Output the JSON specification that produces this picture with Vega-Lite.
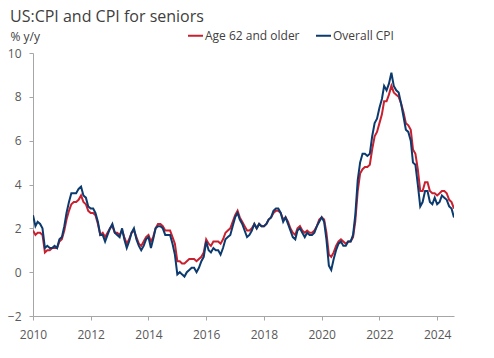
{
  "$schema": "https://vega.github.io/schema/vega-lite/v6.json",
  "width": 421,
  "height": 263,
  "autosize": "none",
  "padding": {"left": 33, "top": 53, "right": 40, "bottom": 42},
  "background": "white",
  "title": {
    "text": "US:CPI and CPI for seniors",
    "anchor": "start",
    "frame": "group",
    "dx": -23,
    "offset": 2,
    "fontSize": 16,
    "fontWeight": "normal",
    "font": "Open Sans",
    "color": "#404040"
  },
  "data": {
    "values": [
      {"date":"2010-01-01","Overall CPI":2.6,"Age 62 and older":1.9},
      {"date":"2010-02-01","Overall CPI":2.1,"Age 62 and older":1.7},
      {"date":"2010-03-01","Overall CPI":2.3,"Age 62 and older":1.8},
      {"date":"2010-04-01","Overall CPI":2.2,"Age 62 and older":1.8},
      {"date":"2010-05-01","Overall CPI":2.0,"Age 62 and older":1.7},
      {"date":"2010-06-01","Overall CPI":1.1,"Age 62 and older":0.9},
      {"date":"2010-07-01","Overall CPI":1.2,"Age 62 and older":1.0},
      {"date":"2010-08-01","Overall CPI":1.1,"Age 62 and older":1.0},
      {"date":"2010-09-01","Overall CPI":1.1,"Age 62 and older":1.1},
      {"date":"2010-10-01","Overall CPI":1.2,"Age 62 and older":1.1},
      {"date":"2010-11-01","Overall CPI":1.1,"Age 62 and older":1.1},
      {"date":"2010-12-01","Overall CPI":1.5,"Age 62 and older":1.4},
      {"date":"2011-01-01","Overall CPI":1.6,"Age 62 and older":1.5},
      {"date":"2011-02-01","Overall CPI":2.1,"Age 62 and older":1.9},
      {"date":"2011-03-01","Overall CPI":2.7,"Age 62 and older":2.4},
      {"date":"2011-04-01","Overall CPI":3.2,"Age 62 and older":2.8},
      {"date":"2011-05-01","Overall CPI":3.6,"Age 62 and older":3.1},
      {"date":"2011-06-01","Overall CPI":3.6,"Age 62 and older":3.2},
      {"date":"2011-07-01","Overall CPI":3.6,"Age 62 and older":3.2},
      {"date":"2011-08-01","Overall CPI":3.8,"Age 62 and older":3.3},
      {"date":"2011-09-01","Overall CPI":3.9,"Age 62 and older":3.5},
      {"date":"2011-10-01","Overall CPI":3.5,"Age 62 and older":3.2},
      {"date":"2011-11-01","Overall CPI":3.4,"Age 62 and older":3.1},
      {"date":"2011-12-01","Overall CPI":3.0,"Age 62 and older":2.8},
      {"date":"2012-01-01","Overall CPI":2.9,"Age 62 and older":2.7},
      {"date":"2012-02-01","Overall CPI":2.9,"Age 62 and older":2.7},
      {"date":"2012-03-01","Overall CPI":2.7,"Age 62 and older":2.6},
      {"date":"2012-04-01","Overall CPI":2.3,"Age 62 and older":2.2},
      {"date":"2012-05-01","Overall CPI":1.7,"Age 62 and older":1.7},
      {"date":"2012-06-01","Overall CPI":1.7,"Age 62 and older":1.8},
      {"date":"2012-07-01","Overall CPI":1.4,"Age 62 and older":1.6},
      {"date":"2012-08-01","Overall CPI":1.7,"Age 62 and older":1.8},
      {"date":"2012-09-01","Overall CPI":2.0,"Age 62 and older":2.0},
      {"date":"2012-10-01","Overall CPI":2.2,"Age 62 and older":2.1},
      {"date":"2012-11-01","Overall CPI":1.8,"Age 62 and older":1.8},
      {"date":"2012-12-01","Overall CPI":1.7,"Age 62 and older":1.8},
      {"date":"2013-01-01","Overall CPI":1.6,"Age 62 and older":1.7},
      {"date":"2013-02-01","Overall CPI":2.0,"Age 62 and older":1.9},
      {"date":"2013-03-01","Overall CPI":1.5,"Age 62 and older":1.6},
      {"date":"2013-04-01","Overall CPI":1.1,"Age 62 and older":1.3},
      {"date":"2013-05-01","Overall CPI":1.4,"Age 62 and older":1.5},
      {"date":"2013-06-01","Overall CPI":1.8,"Age 62 and older":1.8},
      {"date":"2013-07-01","Overall CPI":2.0,"Age 62 and older":1.9},
      {"date":"2013-08-01","Overall CPI":1.5,"Age 62 and older":1.6},
      {"date":"2013-09-01","Overall CPI":1.2,"Age 62 and older":1.3},
      {"date":"2013-10-01","Overall CPI":1.0,"Age 62 and older":1.2},
      {"date":"2013-11-01","Overall CPI":1.2,"Age 62 and older":1.4},
      {"date":"2013-12-01","Overall CPI":1.5,"Age 62 and older":1.6},
      {"date":"2014-01-01","Overall CPI":1.6,"Age 62 and older":1.7},
      {"date":"2014-02-01","Overall CPI":1.1,"Age 62 and older":1.4},
      {"date":"2014-03-01","Overall CPI":1.5,"Age 62 and older":1.6},
      {"date":"2014-04-01","Overall CPI":2.0,"Age 62 and older":2.0},
      {"date":"2014-05-01","Overall CPI":2.1,"Age 62 and older":2.2},
      {"date":"2014-06-01","Overall CPI":2.1,"Age 62 and older":2.2},
      {"date":"2014-07-01","Overall CPI":2.0,"Age 62 and older":2.1},
      {"date":"2014-08-01","Overall CPI":1.7,"Age 62 and older":1.9},
      {"date":"2014-09-01","Overall CPI":1.7,"Age 62 and older":1.9},
      {"date":"2014-10-01","Overall CPI":1.7,"Age 62 and older":1.9},
      {"date":"2014-11-01","Overall CPI":1.3,"Age 62 and older":1.6},
      {"date":"2014-12-01","Overall CPI":0.8,"Age 62 and older":1.3},
      {"date":"2015-01-01","Overall CPI":-0.1,"Age 62 and older":0.5},
      {"date":"2015-02-01","Overall CPI":0.0,"Age 62 and older":0.5},
      {"date":"2015-03-01","Overall CPI":-0.1,"Age 62 and older":0.4},
      {"date":"2015-04-01","Overall CPI":-0.2,"Age 62 and older":0.4},
      {"date":"2015-05-01","Overall CPI":0.0,"Age 62 and older":0.5},
      {"date":"2015-06-01","Overall CPI":0.1,"Age 62 and older":0.6},
      {"date":"2015-07-01","Overall CPI":0.2,"Age 62 and older":0.6},
      {"date":"2015-08-01","Overall CPI":0.2,"Age 62 and older":0.6},
      {"date":"2015-09-01","Overall CPI":0.0,"Age 62 and older":0.5},
      {"date":"2015-10-01","Overall CPI":0.2,"Age 62 and older":0.6},
      {"date":"2015-11-01","Overall CPI":0.5,"Age 62 and older":0.7},
      {"date":"2015-12-01","Overall CPI":0.7,"Age 62 and older":0.9},
      {"date":"2016-01-01","Overall CPI":1.4,"Age 62 and older":1.5},
      {"date":"2016-02-01","Overall CPI":1.0,"Age 62 and older":1.3},
      {"date":"2016-03-01","Overall CPI":0.9,"Age 62 and older":1.2},
      {"date":"2016-04-01","Overall CPI":1.1,"Age 62 and older":1.4},
      {"date":"2016-05-01","Overall CPI":1.0,"Age 62 and older":1.4},
      {"date":"2016-06-01","Overall CPI":1.0,"Age 62 and older":1.4},
      {"date":"2016-07-01","Overall CPI":0.8,"Age 62 and older":1.3},
      {"date":"2016-08-01","Overall CPI":1.1,"Age 62 and older":1.5},
      {"date":"2016-09-01","Overall CPI":1.5,"Age 62 and older":1.8},
      {"date":"2016-10-01","Overall CPI":1.6,"Age 62 and older":1.9},
      {"date":"2016-11-01","Overall CPI":1.7,"Age 62 and older":2.0},
      {"date":"2016-12-01","Overall CPI":2.1,"Age 62 and older":2.3},
      {"date":"2017-01-01","Overall CPI":2.5,"Age 62 and older":2.6},
      {"date":"2017-02-01","Overall CPI":2.7,"Age 62 and older":2.8},
      {"date":"2017-03-01","Overall CPI":2.4,"Age 62 and older":2.5},
      {"date":"2017-04-01","Overall CPI":2.2,"Age 62 and older":2.3},
      {"date":"2017-05-01","Overall CPI":1.9,"Age 62 and older":2.1},
      {"date":"2017-06-01","Overall CPI":1.6,"Age 62 and older":1.9},
      {"date":"2017-07-01","Overall CPI":1.7,"Age 62 and older":1.9},
      {"date":"2017-08-01","Overall CPI":1.9,"Age 62 and older":2.0},
      {"date":"2017-09-01","Overall CPI":2.2,"Age 62 and older":2.2},
      {"date":"2017-10-01","Overall CPI":2.0,"Age 62 and older":2.0},
      {"date":"2017-11-01","Overall CPI":2.2,"Age 62 and older":2.2},
      {"date":"2017-12-01","Overall CPI":2.1,"Age 62 and older":2.1},
      {"date":"2018-01-01","Overall CPI":2.1,"Age 62 and older":2.1},
      {"date":"2018-02-01","Overall CPI":2.2,"Age 62 and older":2.2},
      {"date":"2018-03-01","Overall CPI":2.4,"Age 62 and older":2.4},
      {"date":"2018-04-01","Overall CPI":2.5,"Age 62 and older":2.5},
      {"date":"2018-05-01","Overall CPI":2.8,"Age 62 and older":2.7},
      {"date":"2018-06-01","Overall CPI":2.9,"Age 62 and older":2.8},
      {"date":"2018-07-01","Overall CPI":2.9,"Age 62 and older":2.8},
      {"date":"2018-08-01","Overall CPI":2.7,"Age 62 and older":2.7},
      {"date":"2018-09-01","Overall CPI":2.3,"Age 62 and older":2.4},
      {"date":"2018-10-01","Overall CPI":2.5,"Age 62 and older":2.5},
      {"date":"2018-11-01","Overall CPI":2.2,"Age 62 and older":2.3},
      {"date":"2018-12-01","Overall CPI":1.9,"Age 62 and older":2.0},
      {"date":"2019-01-01","Overall CPI":1.6,"Age 62 and older":1.8},
      {"date":"2019-02-01","Overall CPI":1.5,"Age 62 and older":1.7},
      {"date":"2019-03-01","Overall CPI":1.9,"Age 62 and older":2.0},
      {"date":"2019-04-01","Overall CPI":2.0,"Age 62 and older":2.1},
      {"date":"2019-05-01","Overall CPI":1.8,"Age 62 and older":1.9},
      {"date":"2019-06-01","Overall CPI":1.6,"Age 62 and older":1.8},
      {"date":"2019-07-01","Overall CPI":1.8,"Age 62 and older":1.9},
      {"date":"2019-08-01","Overall CPI":1.7,"Age 62 and older":1.8},
      {"date":"2019-09-01","Overall CPI":1.7,"Age 62 and older":1.8},
      {"date":"2019-10-01","Overall CPI":1.8,"Age 62 and older":1.9},
      {"date":"2019-11-01","Overall CPI":2.1,"Age 62 and older":2.1},
      {"date":"2019-12-01","Overall CPI":2.3,"Age 62 and older":2.4},
      {"date":"2020-01-01","Overall CPI":2.5,"Age 62 and older":2.5},
      {"date":"2020-02-01","Overall CPI":2.3,"Age 62 and older":2.4},
      {"date":"2020-03-01","Overall CPI":1.5,"Age 62 and older":1.8},
      {"date":"2020-04-01","Overall CPI":0.3,"Age 62 and older":0.8},
      {"date":"2020-05-01","Overall CPI":0.1,"Age 62 and older":0.7},
      {"date":"2020-06-01","Overall CPI":0.6,"Age 62 and older":0.9},
      {"date":"2020-07-01","Overall CPI":1.0,"Age 62 and older":1.2},
      {"date":"2020-08-01","Overall CPI":1.3,"Age 62 and older":1.4},
      {"date":"2020-09-01","Overall CPI":1.4,"Age 62 and older":1.5},
      {"date":"2020-10-01","Overall CPI":1.2,"Age 62 and older":1.4},
      {"date":"2020-11-01","Overall CPI":1.2,"Age 62 and older":1.3},
      {"date":"2020-12-01","Overall CPI":1.4,"Age 62 and older":1.4},
      {"date":"2021-01-01","Overall CPI":1.4,"Age 62 and older":1.4},
      {"date":"2021-02-01","Overall CPI":1.7,"Age 62 and older":1.6},
      {"date":"2021-03-01","Overall CPI":2.6,"Age 62 and older":2.3},
      {"date":"2021-04-01","Overall CPI":4.2,"Age 62 and older":3.7},
      {"date":"2021-05-01","Overall CPI":5.0,"Age 62 and older":4.5},
      {"date":"2021-06-01","Overall CPI":5.4,"Age 62 and older":4.7},
      {"date":"2021-07-01","Overall CPI":5.4,"Age 62 and older":4.8},
      {"date":"2021-08-01","Overall CPI":5.3,"Age 62 and older":4.8},
      {"date":"2021-09-01","Overall CPI":5.4,"Age 62 and older":4.9},
      {"date":"2021-10-01","Overall CPI":6.2,"Age 62 and older":5.6},
      {"date":"2021-11-01","Overall CPI":6.8,"Age 62 and older":6.2},
      {"date":"2021-12-01","Overall CPI":7.0,"Age 62 and older":6.4},
      {"date":"2022-01-01","Overall CPI":7.5,"Age 62 and older":6.8},
      {"date":"2022-02-01","Overall CPI":7.9,"Age 62 and older":7.2},
      {"date":"2022-03-01","Overall CPI":8.5,"Age 62 and older":7.8},
      {"date":"2022-04-01","Overall CPI":8.3,"Age 62 and older":7.8},
      {"date":"2022-05-01","Overall CPI":8.6,"Age 62 and older":8.1},
      {"date":"2022-06-01","Overall CPI":9.1,"Age 62 and older":8.5},
      {"date":"2022-07-01","Overall CPI":8.5,"Age 62 and older":8.2},
      {"date":"2022-08-01","Overall CPI":8.3,"Age 62 and older":8.1},
      {"date":"2022-09-01","Overall CPI":8.2,"Age 62 and older":8.0},
      {"date":"2022-10-01","Overall CPI":7.7,"Age 62 and older":7.7},
      {"date":"2022-11-01","Overall CPI":7.1,"Age 62 and older":7.3},
      {"date":"2022-12-01","Overall CPI":6.5,"Age 62 and older":6.8},
      {"date":"2023-01-01","Overall CPI":6.4,"Age 62 and older":6.7},
      {"date":"2023-02-01","Overall CPI":6.0,"Age 62 and older":6.5},
      {"date":"2023-03-01","Overall CPI":5.0,"Age 62 and older":5.6},
      {"date":"2023-04-01","Overall CPI":4.9,"Age 62 and older":5.4},
      {"date":"2023-05-01","Overall CPI":4.0,"Age 62 and older":4.7},
      {"date":"2023-06-01","Overall CPI":3.0,"Age 62 and older":3.7},
      {"date":"2023-07-01","Overall CPI":3.2,"Age 62 and older":3.7},
      {"date":"2023-08-01","Overall CPI":3.7,"Age 62 and older":4.1},
      {"date":"2023-09-01","Overall CPI":3.7,"Age 62 and older":4.1},
      {"date":"2023-10-01","Overall CPI":3.2,"Age 62 and older":3.7},
      {"date":"2023-11-01","Overall CPI":3.1,"Age 62 and older":3.6},
      {"date":"2023-12-01","Overall CPI":3.4,"Age 62 and older":3.6},
      {"date":"2024-01-01","Overall CPI":3.1,"Age 62 and older":3.5},
      {"date":"2024-02-01","Overall CPI":3.2,"Age 62 and older":3.6},
      {"date":"2024-03-01","Overall CPI":3.5,"Age 62 and older":3.7},
      {"date":"2024-04-01","Overall CPI":3.4,"Age 62 and older":3.7},
      {"date":"2024-05-01","Overall CPI":3.3,"Age 62 and older":3.6},
      {"date":"2024-06-01","Overall CPI":3.0,"Age 62 and older":3.3},
      {"date":"2024-07-01","Overall CPI":2.9,"Age 62 and older":3.2},
      {"date":"2024-08-01","Overall CPI":2.5,"Age 62 and older":2.9}
    ]
  },
  "transform": [
    {"fold": ["Age 62 and older", "Overall CPI"], "as": ["series", "value"]}
  ],
  "mark": {"type": "line", "strokeWidth": 2, "clip": true},
  "encoding": {
    "x": {
      "field": "date",
      "type": "temporal",
      "scale": {"domain": [{"year": 2010, "month": 1, "date": 1}, {"year": 2024, "month": 8, "date": 1}]},
      "axis": {
        "title": null,
        "format": "%Y",
        "values": [{"year": 2010}, {"year": 2012}, {"year": 2014}, {"year": 2016}, {"year": 2018}, {"year": 2020}, {"year": 2022}, {"year": 2024}],
        "grid": false,
        "tickSize": 4,
        "labelPadding": 9,
        "labelFlush": false,
        "labelOverlap": false
      }
    },
    "y": {
      "field": "value",
      "type": "quantitative",
      "scale": {"domain": [-2, 10], "nice": false, "zero": false},
      "axis": {
        "title": "% y/y",
        "titleAngle": 0,
        "titleAlign": "left",
        "titleBaseline": "alphabetic",
        "titleX": -23,
        "titleY": -13,
        "titleFontWeight": "normal",
        "titleFontSize": 12,
        "titleColor": "#404040",
        "values": [-2, 0, 2, 4, 6, 8, 10],
        "grid": false,
        "tickSize": 4,
        "labelPadding": 8
      }
    },
    "color": {
      "field": "series",
      "type": "nominal",
      "scale": {"domain": ["Age 62 and older", "Overall CPI"], "range": ["#C8202F", "#0C3A6E"]},
      "legend": {
        "title": null,
        "orient": "none",
        "direction": "horizontal",
        "legendX": 154,
        "legendY": -26,
        "symbolType": "stroke",
        "symbolSize": 225,
        "symbolStrokeWidth": 2,
        "labelOffset": 1,
        "columnPadding": 12,
        "labelFontSize": 12,
        "labelColor": "#404040"
      }
    }
  },
  "config": {
    "font": "Open Sans",
    "view": {"stroke": null},
    "axis": {
      "domainColor": "#A6A6A6",
      "tickColor": "#A6A6A6",
      "labelColor": "#595959",
      "labelFontSize": 12,
      "labelFont": "Open Sans"
    },
    "legend": {"labelFont": "Open Sans"}
  }
}
